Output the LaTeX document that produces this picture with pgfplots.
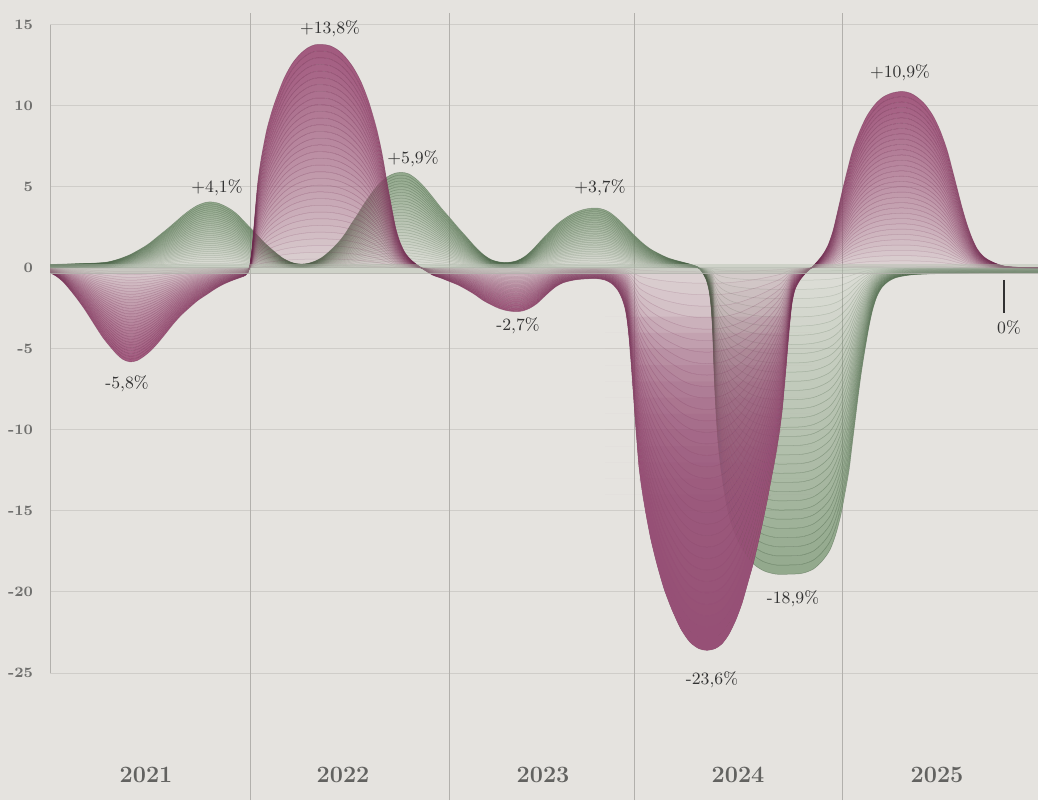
\documentclass[border=0pt]{standalone}
\usepackage{pgfplots}
\pgfplotsset{compat=1.18}
\usepackage{pgfplotstable}

\definecolor{paper}{RGB}{229,227,223}
\definecolor{pinkS}{RGB}{156,78,118}
\definecolor{pinkD}{RGB}{150,80,118}
\definecolor{pinkL}{RGB}{105,40,75}
\definecolor{greenS}{RGB}{122,152,116}
\definecolor{greenL}{RGB}{62,88,60}
\definecolor{hgrid}{RGB}{207,205,201}
\definecolor{vgrid}{RGB}{178,176,172}
\definecolor{tickc}{RGB}{112,112,110}
\definecolor{yearc}{RGB}{98,98,96}
\definecolor{textc}{RGB}{50,50,50}
\definecolor{bandc}{RGB}{178,190,174}

% pink series (x in pixel units of the time axis, y in %)
\pgfplotstableread{
x y
50 -0.30
56 -0.50
63 -0.85
70 -1.35
77 -1.90
84 -2.50
90 -3.07
97 -3.75
103 -4.31
110 -4.85
117 -5.34
123 -5.65
130 -5.80
137 -5.72
143 -5.50
150 -5.15
157 -4.70
165 -4.10
173 -3.48
181 -2.93
190 -2.42
198 -2.00
207 -1.63
215 -1.30
223 -1.02
232 -0.78
240 -0.60
245 -0.48
248 -0.30
250 0.20
252 1.20
254 2.60
256 4.10
258 5.40
261 6.70
264 7.70
267 8.60
272 9.70
277 10.60
284 11.70
292 12.60
300 13.20
308 13.60
315 13.78
322 13.80
330 13.72
338 13.45
345 13.05
353 12.40
361 11.50
368 10.40
373 9.40
377 8.50
381 7.40
384 6.40
387 5.30
390 4.30
393 3.30
396 2.40
400 1.60
405 0.95
411 0.50
417 0.20
425 -0.15
433 -0.45
442 -0.65
450 -0.85
458 -1.05
467 -1.35
475 -1.65
483 -2.00
492 -2.30
500 -2.52
508 -2.65
516 -2.70
523 -2.65
530 -2.48
537 -2.20
543 -1.85
550 -1.45
556 -1.15
563 -0.92
570 -0.80
577 -0.72
587 -0.67
597 -0.66
605 -0.75
612 -0.98
618 -1.40
622 -1.90
625 -2.50
627 -3.20
629 -4.30
631 -5.80
633 -7.50
635 -9.20
637 -10.80
639 -12.30
642 -13.70
646 -15.20
651 -16.80
657 -18.30
664 -19.80
672 -21.10
681 -22.30
690 -23.10
699 -23.50
707 -23.60
715 -23.50
722 -23.20
729 -22.60
736 -21.70
742 -20.70
748 -19.40
753 -18.30
758 -17.00
763 -15.60
767 -14.40
771 -13.10
775 -11.80
779 -10.30
782 -8.90
784 -7.60
786 -6.20
788 -4.70
790 -3.30
792 -2.20
795 -1.35
800 -0.75
806 -0.30
812 0.05
818 0.45
823 0.85
828 1.40
833 2.30
838 3.60
843 4.95
848 6.20
853 7.35
860 8.50
867 9.40
875 10.10
883 10.55
892 10.80
902 10.90
910 10.80
917 10.55
925 10.10
933 9.40
940 8.50
947 7.30
952 6.15
957 4.95
962 3.75
967 2.70
972 1.85
977 1.20
982 0.80
987 0.55
995 0.30
1004 0.12
1015 0.05
1038 0.02
}\pinkdata

% green series
\pgfplotstableread{
x y
50 0.22
65 0.24
80 0.27
95 0.30
107 0.36
115 0.48
122 0.62
130 0.82
137 1.05
144 1.30
150 1.55
156 1.85
162 2.15
168 2.45
175 2.82
183 3.25
190 3.58
197 3.85
204 4.02
210 4.08
217 4.02
223 3.88
230 3.65
237 3.33
243 2.95
250 2.50
257 2.05
263 1.65
270 1.25
277 0.88
283 0.60
290 0.38
296 0.27
302 0.24
308 0.28
315 0.42
322 0.65
328 0.95
334 1.30
340 1.70
346 2.20
351 2.70
357 3.25
363 3.85
369 4.40
375 4.90
382 5.35
388 5.65
395 5.85
402 5.90
409 5.80
417 5.45
425 4.95
433 4.35
441 3.72
450 3.08
458 2.50
467 1.88
475 1.32
483 0.85
491 0.52
500 0.36
508 0.34
517 0.45
525 0.72
533 1.16
541 1.70
550 2.28
558 2.75
567 3.15
575 3.42
583 3.60
590 3.68
597 3.70
604 3.60
610 3.42
618 3.02
627 2.48
635 1.98
643 1.52
651 1.15
660 0.85
668 0.62
677 0.45
685 0.32
692 0.20
698 0.05
702 -0.25
706 -0.70
709 -1.40
711 -2.40
712.5 -3.80
713.5 -5.50
714.5 -7.20
716 -9.00
718 -10.80
721 -12.50
725 -14.10
730 -15.50
737 -16.70
745 -17.60
754 -18.30
764 -18.70
776 -18.90
790 -18.90
802 -18.85
813 -18.60
822 -18.10
830 -17.40
836 -16.40
841 -15.20
845 -13.90
849 -12.50
852 -11.00
855 -9.50
858 -8.00
861 -6.60
864 -5.40
867 -4.30
870 -3.30
873 -2.50
877 -1.75
882 -1.20
888 -0.85
895 -0.62
905 -0.48
917 -0.40
940 -0.35
980 -0.32
1038 -0.30
}\greendata

% closed band tables: the series forward, then backward
\pgfplotstablegetrowsof{\pinkdata}\edef\npP{\pgfplotsretval}
\pgfplotstablesort[sort key=x,sort cmp=float >]{\pinkrev}{\pinkdata}
\pgfplotstableread{
x y
}\pinkband
\pgfplotstablevertcat{\pinkband}{\pinkdata}
\pgfplotstablevertcat{\pinkband}{\pinkrev}
\pgfplotstablegetrowsof{\greendata}\edef\npG{\pgfplotsretval}
\pgfplotstablesort[sort key=x,sort cmp=float >]{\greenrev}{\greendata}
\pgfplotstableread{
x y
}\greenband
\pgfplotstablevertcat{\greenband}{\greendata}
\pgfplotstablevertcat{\greenband}{\greenrev}

\pgfplotsset{
  base/.style={
    at={(25pt,0pt)}, anchor=south west, scale only axis,
    width=494pt, height=400pt,
    xmin=50, xmax=1038, ymin=-32.84, ymax=16.54, clip=true},
  layer/.style={base, hide axis},
}

\begin{document}
\begin{tikzpicture}
\useasboundingbox (0,0) rectangle (519pt,400pt);
\fill[paper] (0,0) rectangle (519pt,400pt);

% axis with grid and tick labels (same scale, top at the 15.74 line)
\begin{axis}[
  base, height=393.5pt, ymax=15.74,
  axis line style={draw=none},
  major tick length=0pt,
  ytick={-25,-20,-15,-10,-5,0,5,10,15},
  yticklabels={-25,-20,-15,-10,-5,0,5,10,15},
  yticklabel style={font=\fontsize{7.2}{8}\selectfont\bfseries, text=tickc, xshift=-5pt},
  xtick={146,343,543,738,937},
  xticklabels={2021,2022,2023,2024,2025},
  xticklabel style={font=\fontsize{11.7}{13}\selectfont\bfseries, text=yearc, anchor=base, yshift=9pt},
  ymajorgrids, major grid style={hgrid, line width=0.5pt},
  extra x ticks={250,449,634,842},
  extra x tick labels={},
  extra x tick style={grid=major, major grid style={vgrid, line width=0.5pt}},
]
\draw[vgrid, line width=0.5pt] (axis cs:50.6,15) -- (axis cs:50.6,-25);
\end{axis}

% green ribbon: nested scaled copies of the series
\begin{axis}[layer]
\pgfplotsinvokeforeach{100,97,...,52}{
  \addplot[draw=none, fill=greenS, fill opacity={0.04+0.72*#1/100}, smooth]
    table[y expr={\coordindex<\npG ? #1/100*\thisrow{y} : max(#1-3,0)/100*\thisrow{y}}] {\greenband};
}
\end{axis}
\begin{axis}[layer]
\pgfplotsinvokeforeach{49,46,...,1}{
  \addplot[draw=none, fill=greenS, fill opacity={0.04+0.72*#1/100}, smooth]
    table[y expr={\coordindex<\npG ? #1/100*\thisrow{y} : max(#1-3,0)/100*\thisrow{y}}] {\greenband};
}
\end{axis}
\begin{axis}[layer]
\pgfplotsinvokeforeach{100,97,...,1}{
  \addplot[greenL, draw opacity={0.14+0.30*#1/100}, line width=0.25pt, smooth]
    table[y expr={#1/100*\thisrow{y}}] {\greendata};
}
\end{axis}

% pink ribbon
\begin{axis}[layer]
\pgfplotsinvokeforeach{100,97,...,52}{
  \addplot[draw=none, fill=pinkS, fill opacity={0.05+0.86*(#1/100)^0.8}, smooth]
    table[y expr={\coordindex<\npP ? #1/100*\thisrow{y} : max(#1-3,0)/100*\thisrow{y}}] {\pinkband};
}
\end{axis}
\begin{axis}[layer]
\pgfplotsinvokeforeach{49,46,...,1}{
  \addplot[draw=none, fill=pinkS, fill opacity={0.05+0.86*(#1/100)^0.8}, smooth]
    table[y expr={\coordindex<\npP ? #1/100*\thisrow{y} : max(#1-3,0)/100*\thisrow{y}}] {\pinkband};
}
\end{axis}
\begin{axis}[layer]
\pgfplotsinvokeforeach{100,97,...,1}{
  \addplot[pinkL, draw opacity={0.14+0.30*#1/100}, line width=0.25pt, smooth]
    table[y expr={#1/100*\thisrow{y}}] {\pinkdata};
}
\end{axis}

% the deep 2024 trough reads as a solid mass: depth-graded overlay of the same series
\begin{axis}[layer]
\pgfplotsinvokeforeach{3,4,...,14}{
  \addplot[draw=none, fill=pinkD, fill opacity=0.11, restrict x to domain=600:812]
    table[y expr={min(\thisrow{y},-#1)}] {\pinkdata};
}
\end{axis}

% baseline band, marker and labels
\begin{axis}[layer]
\addplot[fill=bandc, fill opacity=0.45, draw=none]
  coordinates {(50,0.25) (1038,0.25) (1038,-0.35) (50,-0.35)};
\addplot[vgrid, line width=0.4pt, opacity=0.7]
  coordinates {(50,-0.35) (1038,-0.35)};
\draw[textc, line width=0.6pt] (axis cs:1004,-0.74) -- (axis cs:1004,-2.78);
\tikzset{lab/.style={font=\fontsize{8.6}{10}\selectfont, text=textc, inner sep=0pt}}
\node[lab] at (axis cs:330,14.75) {+13,8\%};
\node[lab] at (axis cs:217,4.94) {+4,1\%};
\node[lab] at (axis cs:127,-7.16) {-5,8\%};
\node[lab] at (axis cs:413,6.73) {+5,9\%};
\node[lab] at (axis cs:600,4.94) {+3,7\%};
\node[lab] at (axis cs:518,-3.58) {-2,7\%};
\node[lab] at (axis cs:712,-25.43) {-23,6\%};
\node[lab] at (axis cs:793,-20.43) {-18,9\%};
\node[lab] at (axis cs:900,12.04) {+10,9\%};
\node[lab] at (axis cs:1009,-3.70) {0\%};
\end{axis}
\end{tikzpicture}
\end{document}
